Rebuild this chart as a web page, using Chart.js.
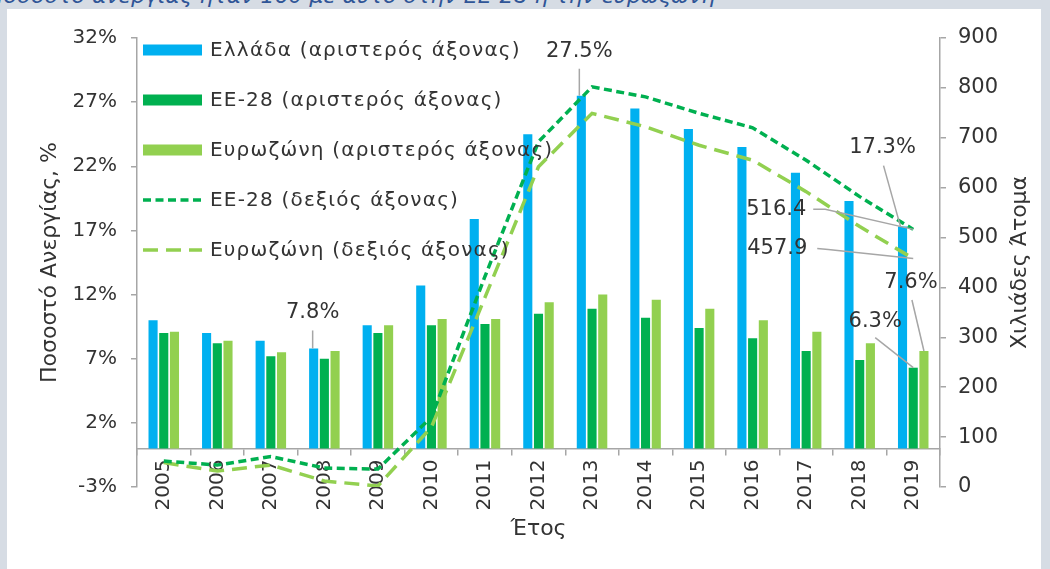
<!DOCTYPE html>
<html lang="el">
<head>
<meta charset="utf-8">
<title>Ποσοστό ανεργίας</title>
<script src="https://cdn.jsdelivr.net/npm/chart.js@4.4.1/dist/chart.umd.min.js"></script>
<style>
  html, body { margin: 0; padding: 0; background: #d6dce4; overflow: hidden; }
  #wrap { position: relative; width: 1050px; height: 569px; overflow: hidden; }
  #panel { position: absolute; left: 7px; top: 9px; width: 1034px; height: 600px; background: #fff; }
  #caption { position: absolute; left: -13px; top: -17px; line-height: 26px; font: italic 22px "DejaVu Sans", sans-serif; color: #2f5597; white-space: nowrap; }
  #chart { position: absolute; left: 0; top: 0; }
</style>
</head>
<body>
<div id="wrap">
  <div id="panel"></div>
  <div id="caption">Ποσοστό ανεργίας ήταν 160 με αυτό στην ΕΕ-28 ή την ευρωζώνη</div>
  <canvas id="chart" width="1050" height="569"></canvas>
</div>
<script>
const years = ['2005', '2006', '2007', '2008', '2009', '2010', '2011', '2012', '2013', '2014', '2015', '2016', '2017', '2018', '2019'];

// left axis, %
const greeceRate = [10.0, 9.0, 8.4, 7.8, 9.6, 12.7, 17.9, 24.5, 27.5, 26.5, 24.9, 23.5, 21.5, 19.3, 17.3];
const eu28Rate = [9.0, 8.2, 7.2, 7.0, 9.0, 9.6, 9.7, 10.5, 10.9, 10.2, 9.4, 8.6, 7.6, 6.9, 6.3];
const eurozoneRate = [9.1, 8.4, 7.5, 7.6, 9.6, 10.1, 10.1, 11.4, 12.0, 11.6, 10.9, 10.0, 9.1, 8.2, 7.6];

// right axis, thousands
const eu28Persons = [52, 44, 61, 38, 36, 140, 422, 692, 802, 782, 749, 720, 655, 582, 516.4];
const eurozonePersons = [49, 32, 44, 12, 2, 120, 380, 642, 749, 722, 685, 655, 592, 522, 457.9];

const leftTicks = [-3, 2, 7, 12, 17, 22, 27, 32];

const seriesNames = [
    'Ελλάδα (αριστερός άξονας)',
    'ΕΕ-28 (αριστερός άξονας)',
    'Ευρωζώνη (αριστερός άξονας)',
    'ΕΕ-28 (δεξιός άξονας)',
    'Ευρωζώνη (δεξιός άξονας)'
];
const leftTitle = 'Ποσοστό Ανεργίας, %';
const rightTitle = 'Χιλιάδες Άτομα';
const xTitle = 'Έτος';

const BLUE = '#00B0F0';
const DARK_GREEN = '#00B050';
const LIGHT_GREEN = '#92D050';
const AXIS_GREY = '#a6a6a6';
const TEXT = '#333333';
const FONT = '"DejaVu Sans", sans-serif';

// value callouts: offsets from the bar top / line point
const callouts = [
    { ds: 0, i: 8, text: [-2, -44], from: [-2, -27], to: [-2, 0] },
    { ds: 0, i: 3, text: [-1, -36], from: [-1, -18], to: [-1, 0] },
    { ds: 0, i: 14, text: [-20, -79], from: [-19, -61], to: [-2, 0] },
    { ds: 3, i: 14, text: [-137, -20], from: [-100, -20], elbow: [-88, -20], to: [0, 0] },
    { ds: 4, i: 14, text: [-136, -10], from: [-96, -10], elbow: [-85, -9], to: [0, 0] },
    { ds: 2, i: 14, text: [-13, -68], from: [-12, -51], to: [0, 0] },
    { ds: 1, i: 14, text: [-38, -46], from: [-38, -30], to: [0, 0] }
];

const insideLegend = {
    id: 'insideLegend',
    afterDatasetsDraw(chart) {
        const { ctx, chartArea } = chart;
        ctx.save();
        ctx.font = '20px ' + FONT;
        ctx.letterSpacing = '1.2px';
        ctx.textBaseline = 'middle';
        chart.data.datasets.forEach((ds, i) => {
            const x0 = chartArea.left + 6;
            const y = chartArea.top + 12 + i * 50;
            if (ds.type === 'line') {
                ctx.strokeStyle = ds.borderColor;
                ctx.lineWidth = ds.borderWidth;
                ctx.setLineDash(ds.borderDash);
                ctx.beginPath();
                ctx.moveTo(x0, y);
                ctx.lineTo(x0 + 59, y);
                ctx.stroke();
                ctx.setLineDash([]);
            } else {
                ctx.fillStyle = ds.backgroundColor;
                ctx.fillRect(x0, y - 5.5, 59, 11);
            }
            ctx.fillStyle = TEXT;
            ctx.fillText(ds.label, x0 + 67, y + 1);
        });
        ctx.restore();
    }
};

const valueCallouts = {
    id: 'valueCallouts',
    afterDatasetsDraw(chart) {
        const ctx = chart.ctx;
        ctx.save();
        ctx.font = '21px ' + FONT;
        ctx.textAlign = 'center';
        ctx.textBaseline = 'middle';
        ctx.strokeStyle = AXIS_GREY;
        ctx.lineWidth = 1.5;
        callouts.forEach(c => {
            const el = chart.getDatasetMeta(c.ds).data[c.i];
            const ds = chart.data.datasets[c.ds];
            const v = ds.data[c.i];
            const label = ds.yAxisID === 'y' ? v.toFixed(1) + '%' : v.toFixed(1);
            ctx.beginPath();
            ctx.moveTo(el.x + c.from[0], el.y + c.from[1]);
            if (c.elbow) ctx.lineTo(el.x + c.elbow[0], el.y + c.elbow[1]);
            ctx.lineTo(el.x + c.to[0], el.y + c.to[1]);
            ctx.stroke();
            ctx.fillStyle = TEXT;
            ctx.fillText(label, el.x + c.text[0], el.y + c.text[1]);
        });
        ctx.restore();
    }
};

// right title reads bottom-to-top like the left one
const rightAxisTitle = {
    id: 'rightAxisTitle',
    afterDraw(chart) {
        const { ctx } = chart;
        const s = chart.scales.y1;
        ctx.save();
        ctx.translate(s.right - 30, (s.top + s.bottom) / 2);
        ctx.rotate(-Math.PI / 2);
        ctx.font = '22px ' + FONT;
        ctx.fillStyle = TEXT;
        ctx.textAlign = 'center';
        ctx.textBaseline = 'middle';
        ctx.fillText(rightTitle, 0, 0);
        ctx.restore();
    }
};

const ctx = document.getElementById('chart').getContext('2d');

new Chart(ctx, {
    data: {
        labels: years,
        datasets: [
            { type: 'bar', label: seriesNames[0], data: greeceRate, backgroundColor: BLUE, yAxisID: 'y', order: 1 },
            { type: 'bar', label: seriesNames[1], data: eu28Rate, backgroundColor: DARK_GREEN, yAxisID: 'y', order: 1 },
            { type: 'bar', label: seriesNames[2], data: eurozoneRate, backgroundColor: LIGHT_GREEN, yAxisID: 'y', order: 1 },
            {
                type: 'line', label: seriesNames[3], data: eu28Persons, yAxisID: 'y1', order: 0,
                borderColor: DARK_GREEN, borderWidth: 3.5, borderDash: [8, 4.5], pointRadius: 0, tension: 0, fill: false
            },
            {
                type: 'line', label: seriesNames[4], data: eurozonePersons, yAxisID: 'y1', order: 0,
                borderColor: LIGHT_GREEN, borderWidth: 3.5, borderDash: [15, 8], pointRadius: 0, tension: 0, fill: false
            }
        ]
    },
    options: {
        responsive: false,
        animation: false,
        datasets: {
            bar: { categoryPercentage: 0.6, barPercentage: 0.85 }
        },
        layout: {
            // the x axis sits at 0% and does not reserve space itself
            padding: { top: 38, left: 0, right: 0, bottom: 82 }
        },
        plugins: {
            legend: { display: false },
            tooltip: { enabled: false }
        },
        scales: {
            x: {
                position: { y: 0 },
                afterFit: (scale) => { scale.height = 82; },
                grid: { drawOnChartArea: false, drawTicks: true, tickLength: 6, color: AXIS_GREY, lineWidth: 1.5 },
                border: { color: AXIS_GREY, width: 1.5 },
                ticks: {
                    autoSkip: false, minRotation: 90, maxRotation: 90, padding: 5,
                    color: TEXT, font: { family: FONT, size: 20 }
                },
                title: {
                    display: true, text: xTitle, color: TEXT,
                    font: { family: FONT, size: 22 }, padding: { top: 0, bottom: -12 }
                }
            },
            y: {
                position: 'left',
                min: -3,
                max: 32,
                afterFit: (scale) => { scale.width = 137; },
                afterBuildTicks: (scale) => { scale.ticks = leftTicks.map(v => ({ value: v })); },
                grid: { drawOnChartArea: false, drawTicks: true, tickLength: 6, color: AXIS_GREY, lineWidth: 1.5 },
                border: { color: AXIS_GREY, width: 1.5 },
                ticks: {
                    padding: 14, color: TEXT, font: { family: FONT, size: 20 },
                    callback: (v) => v + '%'
                },
                title: {
                    display: true, text: leftTitle, color: TEXT,
                    font: { family: FONT, size: 22 }, padding: { top: 37, bottom: 0 }
                }
            },
            y1: {
                position: 'right',
                min: 0,
                max: 900,
                afterFit: (scale) => { scale.width = 110; },
                grid: { drawOnChartArea: false, drawTicks: true, tickLength: 6, color: AXIS_GREY, lineWidth: 1.5 },
                border: { color: AXIS_GREY, width: 1.5 },
                ticks: { stepSize: 100, padding: 12, color: TEXT, font: { family: FONT, size: 21 } }
            }
        }
    },
    plugins: [insideLegend, valueCallouts, rightAxisTitle]
});
</script>
</body>
</html>
